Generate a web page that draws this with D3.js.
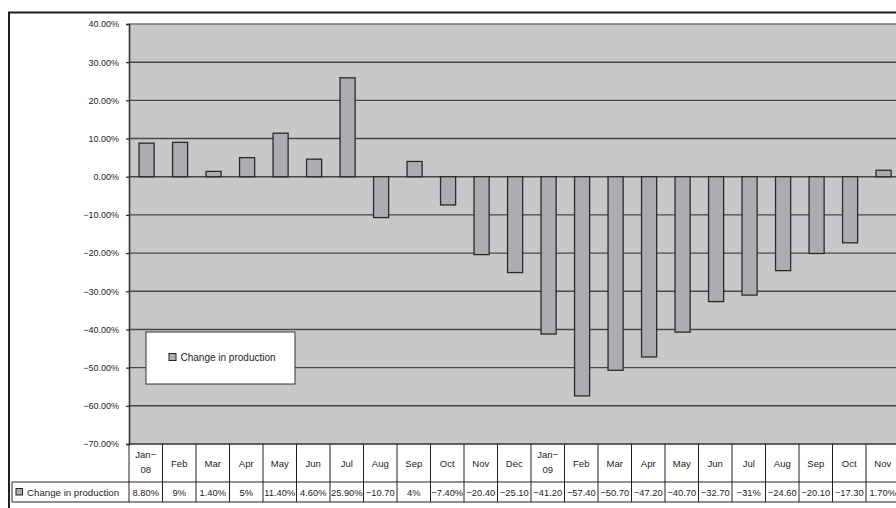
<!DOCTYPE html>
<html>
<head>
<meta charset="utf-8">
<script src="https://cdn.jsdelivr.net/npm/d3@7"></script>
<style>
  html, body { margin: 0; padding: 0; background: #fff; }
  svg { display: block; }
  text { font-family: "Liberation Sans", Arial, sans-serif; fill: #222; }
</style>
</head>
<body>
<svg id="chart" width="896" height="508"></svg>
<script>
// Monthly change in production, Jan 2008 – Nov 2009 (percent)
const categories = ["Jan-08", "Feb", "Mar", "Apr", "May", "Jun", "Jul", "Aug", "Sep", "Oct", "Nov", "Dec",
                    "Jan-09", "Feb", "Mar", "Apr", "May", "Jun", "Jul", "Aug", "Sep", "Oct", "Nov"];
const changeInProduction = [8.8, 9, 1.4, 5, 11.4, 4.6, 25.9, -10.7, 4, -7.4, -20.4, -25.1,
                            -41.2, -57.4, -50.7, -47.2, -40.7, -32.7, -31, -24.6, -20.1, -17.3, 1.7];
const yTicks = [40, 30, 20, 10, 0, -10, -20, -30, -40, -50, -60, -70];
const seriesName = "Change in production";

const svg = d3.select("#chart");
const W = 896, H = 508;

const plot = { left: 129, top: 24, bottom: 444, band: 33.5 };
const keys = categories.map((c, i) => i);
const x = d3.scaleBand()
  .domain(keys)
  .range([plot.left, plot.left + plot.band * categories.length]);
const y = d3.scaleLinear().domain([-70, 40]).range([plot.bottom, plot.top]);

const minus = s => s.replace(/-/g, "\u2212");
const tickFmt = d => minus(d.toFixed(2) + "%");
const cellFmt = v => {
  let s = Number.isInteger(v) ? v + "%" : v.toFixed(2) + "%";
  s = minus(s);
  return s.length > 6 ? s.slice(0, -1) : s;
};

// outer chart frame
svg.append("path")
  .attr("d", `M9,${H} V12.5 H${W}`)
  .attr("fill", "none").attr("stroke", "#1e1e1e").attr("stroke-width", 2);

// plot area
const x0 = x.range()[0], x1 = x.range()[1];
svg.append("rect")
  .attr("x", x0).attr("y", plot.top)
  .attr("width", x1 - x0).attr("height", plot.bottom - plot.top)
  .attr("fill", "#c8c8ca");

// horizontal gridlines
svg.append("g").selectAll("line")
  .data(yTicks.filter(t => t !== -70))
  .join("line")
  .attr("x1", x0).attr("x2", x1)
  .attr("y1", d => y(d)).attr("y2", d => y(d))
  .attr("stroke", d => d === 40 ? "#7a7a7a" : "#474747")
  .attr("stroke-width", 1.4);

// bars
const barW = x.bandwidth() * 0.45;
const barOff = x.bandwidth() * 0.3;
svg.append("g").selectAll("rect")
  .data(changeInProduction)
  .join("rect")
  .attr("x", (d, i) => x(i) + barOff)
  .attr("width", barW)
  .attr("y", d => y(Math.max(0, d)))
  .attr("height", d => Math.abs(y(d) - y(0)))
  .attr("fill", "#adadb1")
  .attr("stroke", "#2a2a2a")
  .attr("stroke-width", 1.3);

// y axis
const yAxis = svg.append("g")
  .attr("transform", `translate(${plot.left},0)`)
  .call(d3.axisLeft(y).tickValues(yTicks).tickSize(3).tickPadding(7).tickFormat(tickFmt));
yAxis.select(".domain").attr("stroke", "#333").attr("stroke-width", 1.6);
yAxis.selectAll(".tick line").attr("stroke", "#333").attr("stroke-width", 1.3);
yAxis.selectAll(".tick text")
  .style("font-family", "'Liberation Sans', Arial, sans-serif")
  .style("font-size", "9px").attr("fill", "#222");

// data table below the plot
const catTop = plot.bottom, valTop = 482, valBottom = 502;
const table = svg.append("g");

// bottom axis line
table.append("line")
  .attr("x1", x0).attr("x2", x1).attr("y1", catTop).attr("y2", catTop)
  .attr("stroke", "#333").attr("stroke-width", 1.6);

// column separators
table.selectAll("line.sep")
  .data(d3.range(categories.length + 1))
  .join("line").attr("class", "sep")
  .attr("x1", i => x0 + i * x.step()).attr("x2", i => x0 + i * x.step())
  .attr("y1", catTop).attr("y2", valBottom)
  .attr("stroke", "#222").attr("stroke-width", 1);

// value row frame
table.append("line").attr("x1", 12).attr("x2", x1).attr("y1", valTop).attr("y2", valTop)
  .attr("stroke", "#222").attr("stroke-width", 1);
table.append("line").attr("x1", 12).attr("x2", x1).attr("y1", valBottom).attr("y2", valBottom)
  .attr("stroke", "#222").attr("stroke-width", 1);
table.append("line").attr("x1", 12).attr("x2", 12).attr("y1", valTop).attr("y2", valBottom)
  .attr("stroke", "#222").attr("stroke-width", 1);

// category labels
const catText = table.selectAll("text.cat")
  .data(categories)
  .join("text").attr("class", "cat")
  .attr("x", (d, i) => x(i) + x.bandwidth() / 2)
  .attr("text-anchor", "middle")
  .style("font-size", "9.5px");
catText.each(function (d) {
  const parts = d.split("-");
  const t = d3.select(this);
  if (parts.length === 1) {
    t.append("tspan").attr("x", t.attr("x")).attr("y", (catTop + valTop) / 2 + 3.5).text(d);
  } else {
    t.append("tspan").attr("x", t.attr("x")).attr("y", 458).text(parts[0] + "\u2212");
    t.append("tspan").attr("x", t.attr("x")).attr("y", 473).text(parts[1]);
  }
});

// value labels
table.selectAll("text.val")
  .data(changeInProduction)
  .join("text").attr("class", "val")
  .attr("x", (d, i) => x(i) + x.bandwidth() / 2)
  .attr("y", (valTop + valBottom) / 2 + 3.5)
  .attr("text-anchor", "middle")
  .style("font-size", "9.3px")
  .text(cellFmt);

// series key in table
table.append("rect")
  .attr("x", 16).attr("y", 488.5).attr("width", 6.5).attr("height", 6.5)
  .attr("fill", "#adadb1").attr("stroke", "#222").attr("stroke-width", 1);
table.append("text")
  .attr("x", 27).attr("y", 495.5)
  .style("font-size", "9.7px")
  .text(seriesName);

// legend box
const lg = svg.append("g");
lg.append("rect")
  .attr("x", 146).attr("y", 332).attr("width", 149).attr("height", 52)
  .attr("fill", "#fff").attr("stroke", "#333").attr("stroke-width", 1);
lg.append("rect")
  .attr("x", 169).attr("y", 353.5).attr("width", 7).attr("height", 7)
  .attr("fill", "#adadb1").attr("stroke", "#222").attr("stroke-width", 1);
lg.append("text")
  .attr("x", 180.5).attr("y", 360.5)
  .style("font-size", "10px")
  .text(seriesName);
</script>
</body>
</html>
